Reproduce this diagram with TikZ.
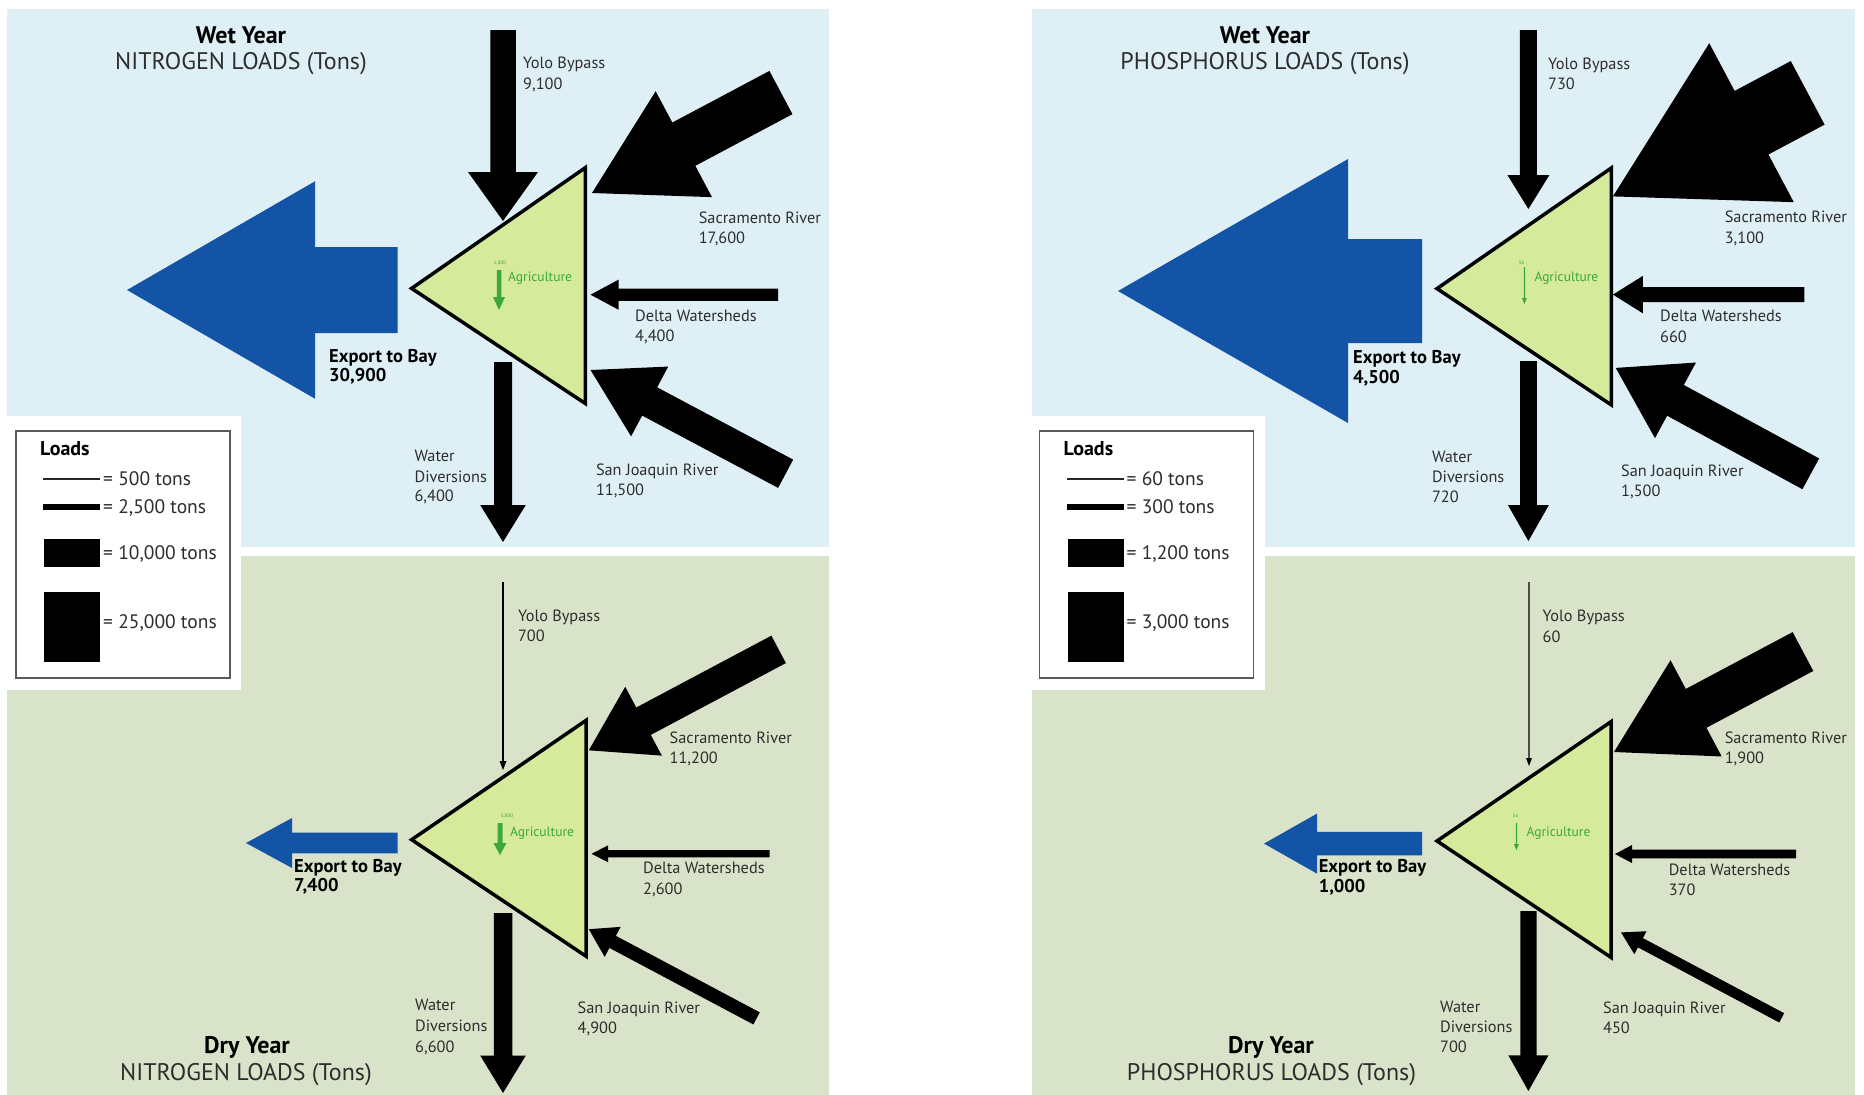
\documentclass[tikz,border=0pt]{standalone}
\usepackage{fontspec}
\setmainfont{PT Sans}
\definecolor{bgblue}{RGB}{222,240,246}
\definecolor{bggreen}{RGB}{216,227,201}
\definecolor{trifill}{RGB}{214,234,155}
\definecolor{expblue}{RGB}{20,84,166}
\definecolor{agcol}{RGB}{60,168,60}
\definecolor{lblcol}{RGB}{45,45,45}
\newcommand\flowarr[8]{%
  \fill[#1,shift={(#2,#3)},rotate=#4] (0,0) -- (#7,#8/2) -- (#7,#6/2) -- (#5,#6/2) -- (#5,-#6/2) -- (#7,-#6/2) -- (#7,-#8/2) -- cycle;}
\tikzset{
  lbl/.style={anchor=base west,inner sep=0pt,yshift=-0.8pt,text=lblcol,font=\fontsize{16.3}{19}\selectfont},
  lblb/.style={anchor=base west,inner sep=0pt,yshift=-1.5pt,text=black,font=\fontsize{18.5}{21}\selectfont\bfseries},
  ttlb/.style={anchor=base,inner sep=0pt,yshift=-1.4pt,text=black,font=\fontsize{24}{28}\selectfont\bfseries},
  ttl/.style={anchor=base,inner sep=0pt,yshift=-1.4pt,text=lblcol,font=\fontsize{24}{28}\selectfont},
  leg/.style={anchor=base west,inner sep=0pt,yshift=-1.2pt,text=lblcol,font=\fontsize{19.5}{23}\selectfont},
  legb/.style={anchor=base west,inner sep=0pt,yshift=-1.2pt,text=black,font=\fontsize{20}{23}\selectfont\bfseries},
  agri/.style={anchor=base west,inner sep=0pt,yshift=-0.7pt,text=agcol,font=\fontsize{13.5}{15}\selectfont},
  tiny/.style={anchor=base,inner sep=0pt,text=agcol,font=\fontsize{5}{6}\selectfont},
  tri/.style={draw=black,line width=3.5pt,fill=trifill,line join=miter}
}
\begin{document}
\begin{tikzpicture}[x=1pt,y=-1pt]
\useasboundingbox (0,0) rectangle (1864,1095);
\fill[white] (0,0) rectangle (1864,1095);
% backgrounds
\fill[bgblue] (7,9) rectangle (829,546.5);
\fill[bggreen] (7,555.5) rectangle (829,1095);
\fill[bgblue] (1032,9) rectangle (1855,546.5);
\fill[bggreen] (1032,555.5) rectangle (1855,1095);

% ================= NITROGEN WET =================
\flowarr{black}{503}{221}{90}{191}{25.5}{49}{70}
\flowarr{black}{592}{193}{28}{214}{49}{104}{120}
\flowarr{black}{590.5}{294.7}{0}{187.5}{12.3}{28}{30}
\flowarr{black}{590.5}{370}{-28}{221}{32}{67}{79}
\flowarr{black}{503}{542}{90}{180}{18}{37}{45.6}
\flowarr{expblue}{127}{290}{0}{270.5}{86}{188}{217.5}
\draw[tri] (411.6,288.4) -- (585.3,167.7) -- (585.3,403.5) -- cycle;
\flowarr{agcol}{499}{310}{90}{40}{4.5}{13}{12}
\node[tiny] (nwag1) at (500,264) {1,800};
\node[agri] (nwag2) at (508,281) {Agriculture};

\node[lbl] (nwy1) at (523,68) {Yolo Bypass};
\node[lbl] (nwy2) at (523,88.5) {9,100};
\node[lbl] (nws1) at (698.6,222.5) {Sacramento River};
\node[lbl] (nws2) at (698.6,243) {17,600};
\node[lbl] (nwd1) at (635,320.8) {Delta Watersheds};
\node[lbl] (nwd2) at (635,341) {4,400};
\node[lbl] (nwj1) at (595.8,475) {San Joaquin River};
\node[lbl] (nwj2) at (595.8,494.5) {11,500};
\node[lbl] (nwv1) at (414.4,461) {Water};
\node[lbl] (nwv2) at (414.4,481.5) {Diversions};
\node[lbl] (nwv3) at (414.4,500.8) {6,400};
\node[lblb] (nwe1) at (329,361) {Export to Bay};
\node[lblb] (nwe2) at (329,380.4) {30,900};
\node[ttlb] (nwt1) at (241,42) {Wet Year};
\node[ttl] (nwt2) at (241,68) {NITROGEN LOADS (Tons)};

% ================= NITROGEN DRY =================
\flowarr{black}{503}{770}{90}{188}{1.8}{9}{7}
\flowarr{black}{588.8}{750.3}{28}{215}{31}{62}{78}
\flowarr{black}{591.6}{853.8}{0}{178}{7.3}{16.5}{17}
\flowarr{black}{588.8}{929.2}{-28}{190}{13.7}{27}{34}
\flowarr{black}{503}{1093}{90}{180}{18.5}{37.5}{45.6}
\flowarr{expblue}{246}{843}{0}{151.5}{20.7}{46}{50}
\draw[tri] (411.6,839.7) -- (586,720.4) -- (586,956.2) -- cycle;
\flowarr{agcol}{500}{855}{90}{32}{5}{12}{13}
\node[tiny] (ndag1) at (507,817) {1,800};
\node[agri] (ndag2) at (510,836) {Agriculture};

\node[lbl] (ndy1) at (517.9,620.2) {Yolo Bypass};
\node[lbl] (ndy2) at (517.9,640.5) {700};
\node[lbl] (nds1) at (669.5,742.3) {Sacramento River};
\node[lbl] (nds2) at (669.5,762.3) {11,200};
\node[lbl] (ndd1) at (643,872.8) {Delta Watersheds};
\node[lbl] (ndd2) at (643,893.9) {2,600};
\node[lbl] (ndj1) at (577.5,1012.5) {San Joaquin River};
\node[lbl] (ndj2) at (577.5,1032.5) {4,900};
\node[lbl] (ndv1) at (415,1009.6) {Water};
\node[lbl] (ndv2) at (415,1030.7) {Diversions};
\node[lbl] (ndv3) at (415,1051.7) {6,600};
\node[lblb] (nde1) at (294,871) {Export to Bay};
\node[lblb] (nde2) at (294,890.4) {7,400};
\node[ttlb] (ndt1) at (247,1052) {Dry Year};
\node[ttl] (ndt2) at (246,1079.5) {NITROGEN LOADS (Tons)};

% ================= PHOSPHORUS WET =================
\flowarr{black}{1528.4}{209}{90}{179}{17}{34}{42}
\flowarr{black}{1612.9}{196.4}{28}{220.6}{72}{157}{180}
\flowarr{black}{1612.9}{294.6}{0}{191.4}{15}{30}{37.5}
\flowarr{black}{1615.7}{367.9}{-28.5}{222}{35}{68}{86}
\flowarr{black}{1528.4}{541}{90}{180}{16.8}{36}{41}
\flowarr{expblue}{1118}{291}{0}{304}{104}{230}{264}
\draw[tri] (1437,288.6) -- (1611.4,167.9) -- (1611.4,405) -- cycle;
\flowarr{agcol}{1524.4}{304}{90}{37}{1.3}{6}{5}
\node[tiny] (pwag1) at (1521.7,264.5) {56};
\node[agri] (pwag2) at (1534.3,281) {Agriculture};

\node[lbl] (pwy1) at (1548,68.6) {Yolo Bypass};
\node[lbl] (pwy2) at (1548,89) {730};
\node[lbl] (pws1) at (1724.6,222) {Sacramento River};
\node[lbl] (pws2) at (1724.6,242.5) {3,100};
\node[lbl] (pwd1) at (1660,321) {Delta Watersheds};
\node[lbl] (pwd2) at (1660,341.5) {660};
\node[lbl] (pwj1) at (1621,476) {San Joaquin River};
\node[lbl] (pwj2) at (1621,496) {1,500};
\node[lbl] (pwv1) at (1431.8,462) {Water};
\node[lbl] (pwv2) at (1431.8,482) {Diversions};
\node[lbl] (pwv3) at (1431.8,502) {720};
\node[lblb] (pwe1) at (1353,362) {Export to Bay};
\node[lblb] (pwe2) at (1353,381.8) {4,500};
\node[ttlb] (pwt1) at (1265,42) {Wet Year};
\node[ttl] (pwt2) at (1265,68) {PHOSPHORUS LOADS (Tons)};

% ================= PHOSPHORUS DRY =================
\flowarr{black}{1529}{766}{90}{184}{1.4}{8}{6}
\flowarr{black}{1614}{752}{28}{214}{44}{93}{109}
\flowarr{black}{1615}{854}{0}{181}{8.6}{17}{18}
\flowarr{black}{1621}{932.4}{-28}{182}{10.5}{22}{26}
\flowarr{black}{1528.4}{1091}{90}{180}{16.3}{35.6}{40}
\flowarr{expblue}{1264}{843.6}{0}{158}{23.3}{53}{60}
\draw[tri] (1437,841) -- (1611,721.7) -- (1611,957.4) -- cycle;
\flowarr{agcol}{1516.4}{850}{90}{27}{1.3}{6}{5}
\node[tiny] (pdag1) at (1515.7,817.5) {56};
\node[agri] (pdag2) at (1526.4,835.7) {Agriculture};

\node[lbl] (pdy1) at (1542.5,620.3) {Yolo Bypass};
\node[lbl] (pdy2) at (1542.5,641.7) {60};
\node[lbl] (pds1) at (1724.6,742.8) {Sacramento River};
\node[lbl] (pds2) at (1724.6,762.4) {1,900};
\node[lbl] (pdd1) at (1668.6,875) {Delta Watersheds};
\node[lbl] (pdd2) at (1668.6,894.6) {370};
\node[lbl] (pdj1) at (1603,1012.4) {San Joaquin River};
\node[lbl] (pdj2) at (1603,1033) {450};
\node[lbl] (pdv1) at (1440,1011.7) {Water};
\node[lbl] (pdv2) at (1440,1032) {Diversions};
\node[lbl] (pdv3) at (1440,1051.7) {700};
\node[lblb] (pde1) at (1318.6,871.4) {Export to Bay};
\node[lblb] (pde2) at (1318.6,891) {1,000};
\node[ttlb] (pdt1) at (1271,1052) {Dry Year};
\node[ttl] (pdt2) at (1271.5,1079.5) {PHOSPHORUS LOADS (Tons)};

% ================= LEGENDS =================
\foreach \dx/\a/\b/\c/\d/\nm in {0/500/{2,500}/{10,000}/{25,000}/ln, 1023.5/60/300/{1,200}/{3,000}/lp}{
  \begin{scope}[shift={(\dx,0)}]
  \fill[white] (0,416) rectangle (241,690);
  \draw[gray!70!black,line width=1.3pt] (16,431) rectangle (230,678);
  \node[legb] (\nm h) at (40,454) {Loads};
  \draw[black!85,line width=1.3pt] (43.3,479) -- (100,479);
  \node[leg] (\nm a) at (103,484.6) {= \a\ tons};
  \draw[black,line width=5.5pt] (43.3,507) -- (100,507);
  \node[leg] (\nm b) at (103,512.6) {= \b\ tons};
  \fill[black] (44,539) rectangle (100,567);
  \node[leg] (\nm c) at (103,558.6) {= \c\ tons};
  \fill[black] (44,592) rectangle (100,662);
  \node[leg] (\nm d) at (103,627.6) {= \d\ tons};
  \end{scope}
}
\end{tikzpicture}
\end{document}
